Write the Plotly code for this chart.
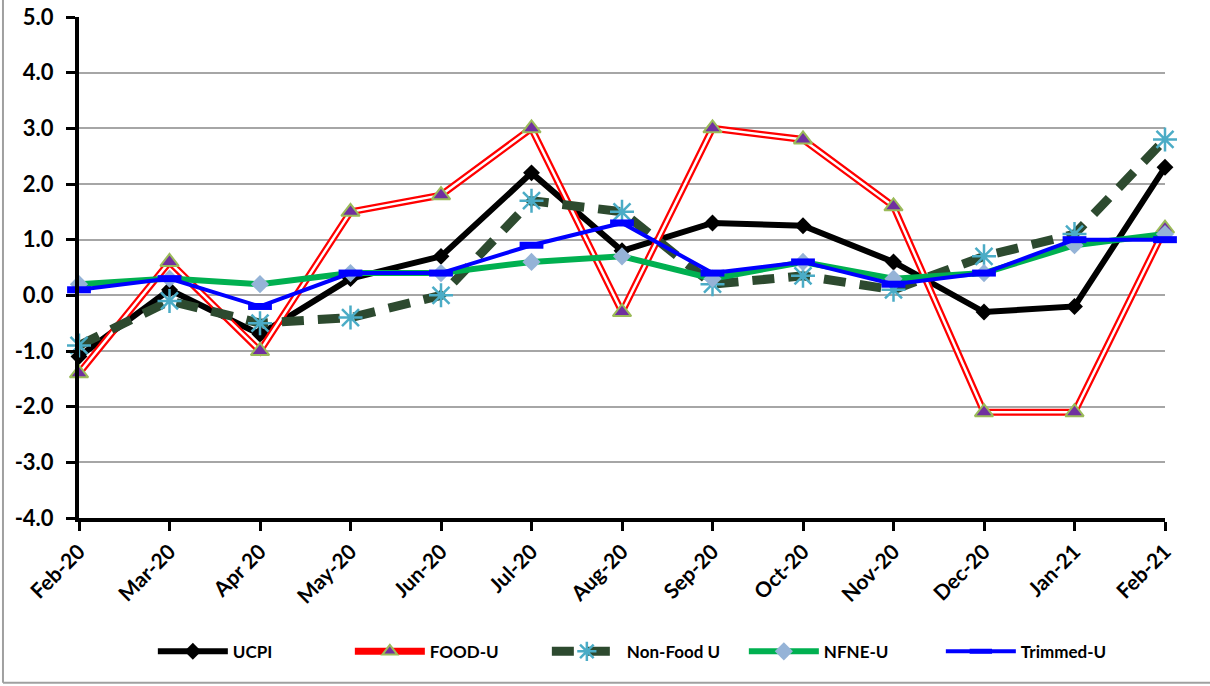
import plotly.graph_objects as go

months = ["Feb-20", "Mar-20", "Apr 20", "May-20", "Jun-20", "Jul-20", "Aug-20",
          "Sep-20", "Oct-20", "Nov-20", "Dec-20", "Jan-21", "Feb-21"]

ucpi = [-1.1, 0.1, -0.7, 0.3, 0.7, 2.2, 0.8, 1.3, 1.25, 0.6, -0.3, -0.2, 2.3]
food_u = [-1.4, 0.6, -1.0, 1.5, 1.8, 3.0, -0.3, 3.0, 2.8, 1.6, -2.1, -2.1, 1.2]
non_food_u = [-0.9, -0.1, -0.5, -0.4, 0.0, 1.7, 1.5, 0.2, 0.35, 0.1, 0.7, 1.1, 2.8]
nfne_u = [0.2, 0.3, 0.2, 0.4, 0.4, 0.6, 0.7, 0.3, 0.6, 0.3, 0.4, 0.9, 1.1]
trimmed_u = [0.1, 0.3, -0.2, 0.4, 0.4, 0.9, 1.3, 0.4, 0.6, 0.2, 0.4, 1.0, 1.0]

y_ticks = [5, 4, 3, 2, 1, 0, -1, -2, -3, -4]

FONT = "Lato"

fig = go.Figure()

fig.add_trace(go.Scatter(
    x=months, y=ucpi, name="UCPI", mode="lines+markers",
    line=dict(color="black", width=6),
    marker=dict(symbol="diamond", size=13, color="black"),
    cliponaxis=False,
))

# double red line: red outer, white inner
fig.add_trace(go.Scatter(
    x=months, y=food_u, name="FOOD-U", mode="lines", legendgroup="food",
    line=dict(color="#ff0000", width=7), cliponaxis=False,
    showlegend=False,
))
fig.add_trace(go.Scatter(
    x=months, y=food_u, name="FOOD-U", mode="lines+markers", legendgroup="food",
    line=dict(color="white", width=2.5),
    marker=dict(symbol="triangle-up", size=16, color="#7030a0",
                line=dict(color="#9bbb59", width=2)),
    cliponaxis=False, showlegend=False,
))
fig.add_trace(go.Scatter(
    x=[None], y=[None], name="FOOD-U", mode="lines+markers", legendgroup="food",
    line=dict(color="#ff0000", width=7),
    marker=dict(symbol="triangle-up", size=13, color="#7030a0",
                line=dict(color="#9bbb59", width=2)),
))

fig.add_trace(go.Scatter(
    x=months, y=non_food_u, name="Non-Food U", mode="lines+markers",
    line=dict(color="#2d4a2f", width=9, dash="22px,14px"),
    marker=dict(symbol="asterisk-open", size=20, color="#4bacc6",
                line=dict(color="#4bacc6", width=2.5)),
    cliponaxis=False,
))

fig.add_trace(go.Scatter(
    x=months, y=nfne_u, name="NFNE-U", mode="lines+markers",
    line=dict(color="#00b050", width=6),
    marker=dict(symbol="diamond", size=14, color="#95b3d7"),
    cliponaxis=False,
))

fig.add_trace(go.Scatter(
    x=months, y=trimmed_u, name="Trimmed-U", mode="lines+markers",
    line=dict(color="#0000ff", width=4),
    marker=dict(symbol="line-ew-open", size=17,
                line=dict(color="#c4d79b", width=7)),
    cliponaxis=False,
))

# outer chart frame (left and bottom edges)
fig.add_shape(type="line", xref="paper", yref="paper",
              x0=-0.07, x1=-0.07, y0=-0.329, y1=1.04,
              line=dict(color="#a0a0a0", width=2))
fig.add_shape(type="line", xref="paper", yref="paper",
              x0=-0.07, x1=1.05, y0=-0.329, y1=-0.329,
              line=dict(color="#a0a0a0", width=2))

fig.update_layout(
    width=1210, height=686,
    margin=dict(l=79, r=45, t=17, b=168, autoexpand=False),
    plot_bgcolor="white", paper_bgcolor="white",
    font=dict(family=FONT, color="black"),
    legend=dict(
        orientation="h", x=0.068, xanchor="left", y=-0.267, yanchor="middle",
        font=dict(family=FONT, size=17, weight="bold"),
        itemwidth=70, entrywidthmode="pixels", entrywidth=112,
    ),
)

fig.update_xaxes(
    type="category", range=[0, 12], automargin=False,
    showline=True, linecolor="black", linewidth=4,
    ticks="outside", ticklen=9, tickwidth=3, tickcolor="black",
    tickangle=-45, showgrid=False,
    tickfont=dict(family=FONT, size=21, weight="bold"),
)
fig.update_yaxes(
    range=[-4, 5], tickvals=y_ticks, automargin=False,
    ticktext=[f"{v:.1f}" for v in y_ticks],
    showline=True, linecolor="black", linewidth=4,
    ticks="outside", ticklen=9, tickwidth=3, tickcolor="black",
    ticklabelstandoff=8,
    showgrid=True, gridcolor="#a6a6a6", gridwidth=1.5,
    zeroline=False,
    tickfont=dict(family=FONT, size=22, weight="bold"),
)

fig.write_html(
    "out.html",
    config={"displayModeBar": False},
    post_script="document.body.style.margin='0';document.body.style.overflow='hidden';",
)
